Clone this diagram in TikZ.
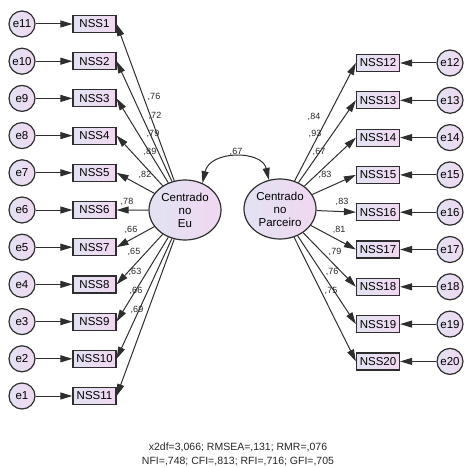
\documentclass[tikz,border=0pt]{standalone}
\usepackage{fontspec}
\setmainfont{Liberation Sans}
\usetikzlibrary{arrows.meta,shapes.geometric}
\definecolor{lineg}{HTML}{2E2E2E}
\definecolor{fillb}{HTML}{E2E2F2}
\definecolor{fillp}{HTML}{F0D8F0}
\tikzset{
  obs/.style={draw=lineg,line width=1.2pt,left color=fillb,right color=fillp,
    minimum width=43pt,minimum height=17pt,inner sep=0pt,font=\fontsize{11.5}{12}\selectfont},
  err/.style={circle,draw=lineg,line width=1.2pt,left color=fillb,right color=fillp,
    minimum size=26pt,inner sep=0pt,font=\fontsize{11.5}{12}\selectfont},
  lat/.style={ellipse,draw=lineg,line width=1.2pt,left color=fillb,right color=fillp,
    minimum width=72pt,minimum height=60pt,inner sep=0pt,align=center,
    font=\fontsize{11.5}{13}\selectfont},
  arr/.style={-{Triangle[length=12pt,width=7pt]},line width=1pt,draw=lineg},
  coef/.style={font=\fontsize{9}{10}\selectfont,inner sep=0pt,text=black!85}
}
\begin{document}
\begin{tikzpicture}[x=1pt,y=-1pt]
\useasboundingbox (0,0) rectangle (468,468);
% latent factors
\node[lat] (eu) at (185,210) {Centrado\\no\\Eu};
\node[lat] (parc) at (280,209) {Centrado\\no\\Parceiro};
% left block
\foreach \i in {1,...,11}
{
    \pgfmathtruncatemacro{\e}{12-\i}
    \node[obs] (nss\i) at (94.5,{24+37.2*(\i-1)}) {NSS\i};
    \node[err] (e\e) at (22,{24+37.2*(\i-1)}) {e\e};
    \draw[arr] (e\e) -- (nss\i);
    \draw[arr] (eu) -- (nss\i.east);
}
% right block
\foreach \j in {12,...,20}
{
    \node[obs] (nss\j) at (378,{63+37.3*(\j-12)}) {NSS\j};
    \node[err] (e\j) at (450,{63+37.3*(\j-12)}) {e\j};
    \draw[arr] (e\j) -- (nss\j);
    \draw[arr] (parc) -- (nss\j.west);
}
% loadings
\foreach \i/\x/\y/\v in {1/154/97/76,2/155/116/72,3/153/134/79,4/150/152/89,
    5/145/175/82,6/127/202/78,7/131/230/66,8/134/252/65,9/135/272/63,
    10/136/291/66,11/137/310/69,12/314/117/84,13/315/134/93,14/319/152/67,
    15/325/175/83,16/342/202/83,17/339/230/81,18/335/252/79,19/332/272/76,
    20/331/291/75}
    \node[coef] (c\i) at (\x,\y) {,\v};
% covariance
\draw[{Triangle[length=12pt,width=7pt]}-{Triangle[length=12pt,width=7pt]},line width=1pt,draw=lineg]
    (eu.57) .. controls (210,150) and (262,150) .. (parc.111);
\node[coef] (cov) at (236,152) {,67};
% fit indices
\node[align=center,font=\fontsize{10.5}{14}\selectfont,text=black!85] (fit) at (238,454)
    {x2df=3,066; RMSEA=,131; RMR=,076\\NFI=,748; CFI=,813; RFI=,716; GFI=,705};
\end{tikzpicture}
\end{document}
